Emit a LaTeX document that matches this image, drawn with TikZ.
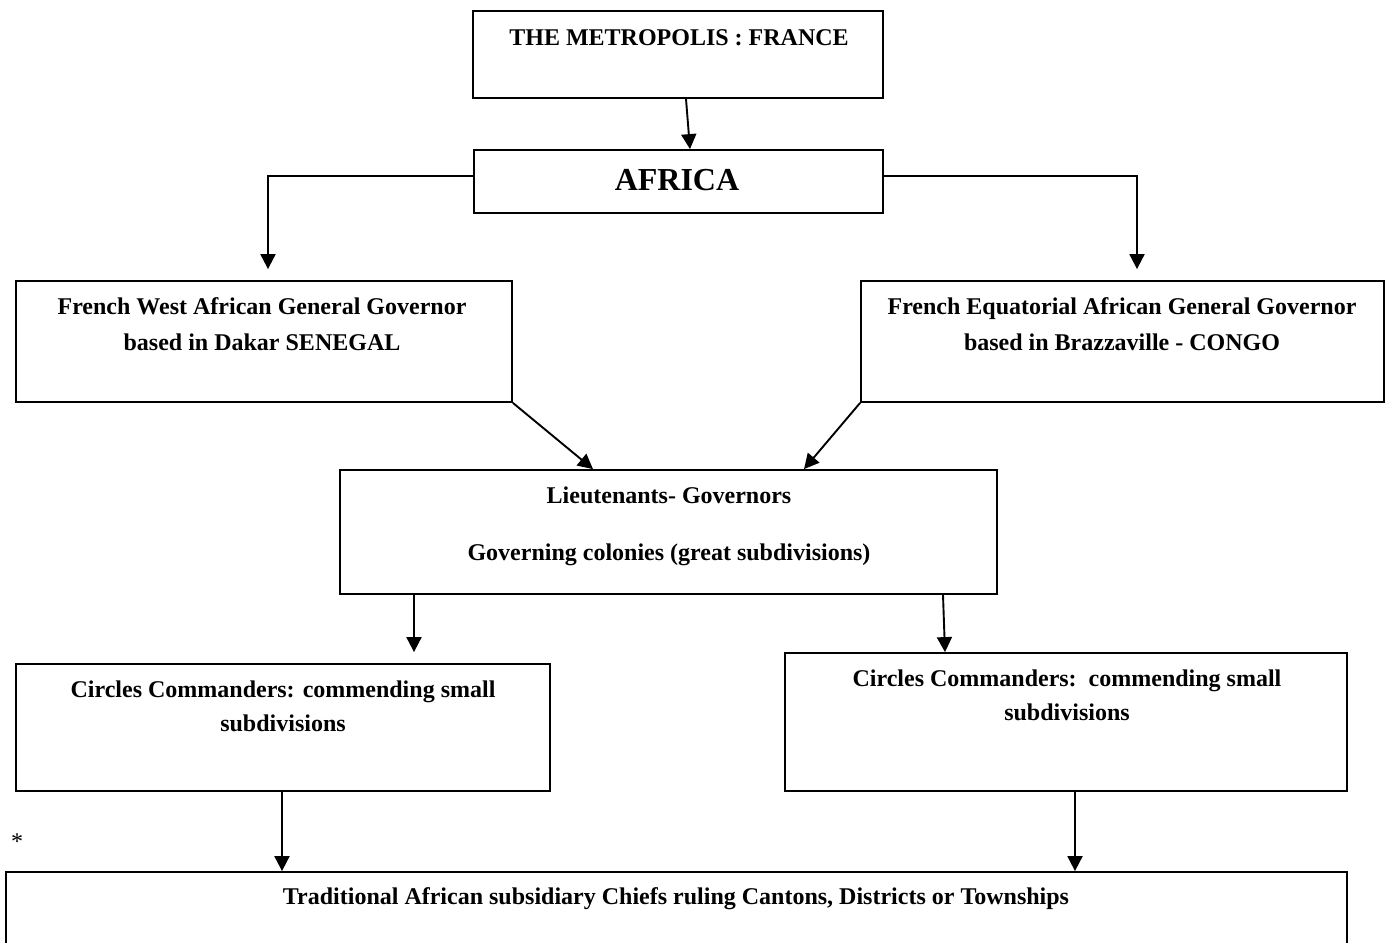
\documentclass[tikz,border=0pt]{standalone}
\usepackage{fontspec}
\setmainfont{Liberation Serif}
\usetikzlibrary{arrows.meta,calc}
\tikzset{
  box/.style={draw, line width=0.9pt, rectangle, inner sep=0pt, fill=none},
  txt/.style={anchor=base, inner sep=0pt, font=\fontsize{12}{14}\selectfont\bfseries},
  big/.style={anchor=base, inner sep=0pt, font=\fontsize{16}{19}\selectfont\bfseries},
  arr/.style={line width=0.95pt, -{Triangle[length=7.5pt,width=7.5pt]}},
}
\begin{document}
\begin{tikzpicture}[x=0.5pt,y=-0.5pt]
\useasboundingbox (0,0) rectangle (1389,943);
\clip (0,0) rectangle (1389,943);
\fill[white] (0,0) rectangle (1389,943);
% boxes
\node[box, minimum width=205pt, minimum height=43.5pt] (fr) at (678,54.5) {};
\node[box, minimum width=204.5pt, minimum height=31.5pt] (af) at (678.5,181.5) {};
\node[box, minimum width=248pt, minimum height=60.5pt] (fwa) at (264,341.5) {};
\node[box, minimum width=261.5pt, minimum height=60.5pt] (fea) at (1122.5,341.5) {};
\node[box, minimum width=328.5pt, minimum height=62pt] (lt) at (668.5,532) {};
\node[box, minimum width=267pt, minimum height=63.5pt] (cl) at (283,727.5) {};
\node[box, minimum width=281pt, minimum height=69pt] (cr) at (1066,722) {};
\node[box, minimum width=670.5pt, minimum height=49pt] (bt) at (676.5,921) {};
% texts
\node[txt] (frt) at (679,45) {THE METROPOLIS : FRANCE};
\node[big] (aft) at (677,190) {AFRICA};
\node[txt] (fwa1) at (262,314) {French West African General Governor};
\node[txt] (fwa2) at (262,350) {based in Dakar SENEGAL};
\node[txt] (fea1) at (1122,314) {French Equatorial African General Governor};
\node[txt] (fea2) at (1122,350) {based in Brazzaville - CONGO};
\node[txt] (lt1) at (669,503) {Lieutenants- Governors};
\node[txt] (lt2) at (669,560) {Governing colonies (great subdivisions)};
\node[txt] (cl1) at (283,697) {Circles Commanders: commending small};
\node[txt] (cl2) at (283,731) {subdivisions};
\node[txt] (cr1) at (1067,686) {Circles Commanders:\ \ commending small};
\node[txt] (cr2) at (1067,720) {subdivisions};
\node[txt] (btt) at (676,904) {Traditional African subsidiary Chiefs ruling Cantons, Districts or Townships};
\node[anchor=base, inner sep=0pt, font=\fontsize{12}{14}\selectfont] (star) at (17,849) {*};
% connectors
\draw[arr] (686,0 |- fr.south) -- (690,0 |- af.north);
\draw[arr] (af.west |- 0,176) -| ([yshift=5.5pt]fwa.north -| 268,0);
\draw[arr] (af.east |- 0,176) -| ([yshift=5.5pt]fea.north -| 1137,0);
\draw[arr] (fwa.south east) -- (593,0 |- lt.north);
\draw[arr] (fea.south west) -- (804,0 |- lt.north);
\draw[arr] (414,0 |- lt.south) -- ([yshift=5.5pt]cl.north -| 414,0);
\draw[arr] (943,0 |- lt.south) -- (945,0 |- cr.north);
\draw[arr] (282,0 |- cl.south) -- (282,0 |- bt.north);
\draw[arr] (1075,0 |- cr.south) -- (1075,0 |- bt.north);
\end{tikzpicture}
\end{document}
